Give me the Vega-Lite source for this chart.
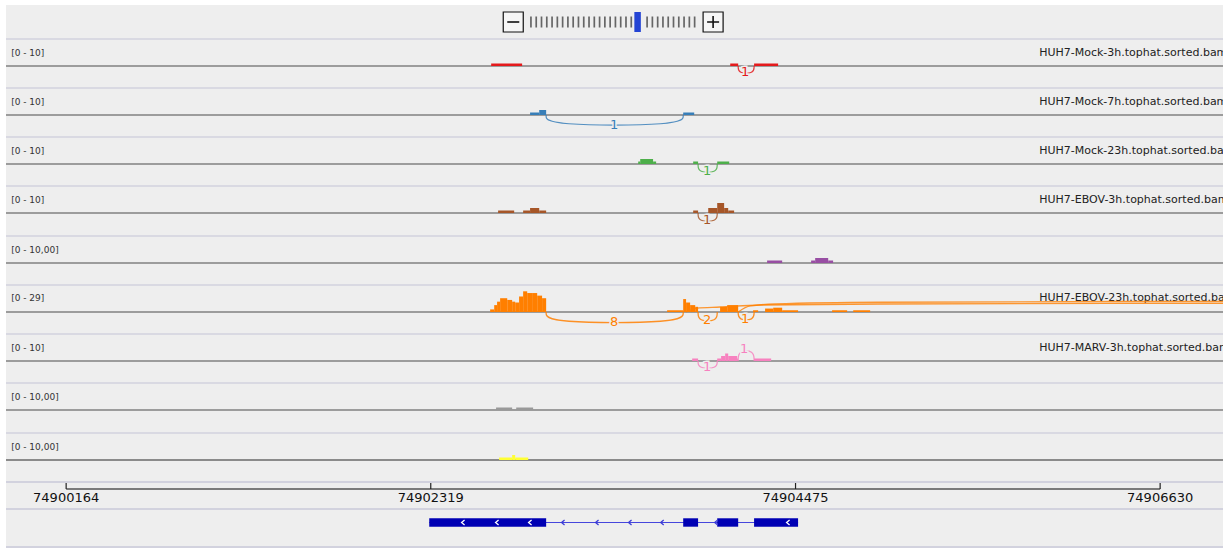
{
"$schema": "https://vega.github.io/schema/vega-lite/v6.json",
"background": "#ffffff",
"padding": {"left": 5, "top": 5, "right": 5, "bottom": 5},
"spacing": 0,
"bounds": "flush",
"resolve": {"scale": {"x": "independent", "y": "independent", "color": "independent", "shape": "independent"}},
"config": {"view": {"stroke": null, "fill": "#eeeeee"}, "font": "DejaVu Sans"},
"datasets": {
"tracks": [
{"track": "t1", "range": "[0 - 10]", "name": "HUH7-Mock-3h.tophat.sorted.bam"},
{"track": "t2", "range": "[0 - 10]", "name": "HUH7-Mock-7h.tophat.sorted.bam"},
{"track": "t3", "range": "[0 - 10]", "name": "HUH7-Mock-23h.tophat.sorted.bam"},
{"track": "t4", "range": "[0 - 10]", "name": "HUH7-EBOV-3h.tophat.sorted.bam"},
{"track": "t5", "range": "[0 - 10,00]", "name": ""},
{"track": "t6", "range": "[0 - 29]", "name": "HUH7-EBOV-23h.tophat.sorted.bam"},
{"track": "t7", "range": "[0 - 10]", "name": "HUH7-MARV-3h.tophat.sorted.bam"},
{"track": "t8", "range": "[0 - 10,00]", "name": ""},
{"track": "t9", "range": "[0 - 10,00]", "name": ""}
],
"cov": [
{"track": "t1", "pos": 74902676, "end": 74902859, "v": 1},
{"track": "t1", "pos": 74904089, "end": 74904136, "v": 1},
{"track": "t1", "pos": 74904230, "end": 74904372, "v": 1},
{"track": "t2", "pos": 74902906, "end": 74902960, "v": 1},
{"track": "t2", "pos": 74902960, "end": 74903001, "v": 2},
{"track": "t2", "pos": 74903811, "end": 74903876, "v": 1},
{"track": "t3", "pos": 74903545, "end": 74903557, "v": 1},
{"track": "t3", "pos": 74903557, "end": 74903633, "v": 2},
{"track": "t3", "pos": 74903633, "end": 74903651, "v": 1},
{"track": "t3", "pos": 74903870, "end": 74903899, "v": 1},
{"track": "t3", "pos": 74904012, "end": 74904083, "v": 1},
{"track": "t4", "pos": 74902717, "end": 74902812, "v": 1},
{"track": "t4", "pos": 74902865, "end": 74902906, "v": 1},
{"track": "t4", "pos": 74902906, "end": 74902960, "v": 2},
{"track": "t4", "pos": 74902960, "end": 74903001, "v": 1},
{"track": "t4", "pos": 74903870, "end": 74903899, "v": 1},
{"track": "t4", "pos": 74903959, "end": 74904012, "v": 2},
{"track": "t4", "pos": 74904012, "end": 74904053, "v": 4},
{"track": "t4", "pos": 74904053, "end": 74904077, "v": 2},
{"track": "t4", "pos": 74904077, "end": 74904112, "v": 1},
{"track": "t5", "pos": 74904307, "end": 74904396, "v": 1},
{"track": "t5", "pos": 74904567, "end": 74904591, "v": 1},
{"track": "t5", "pos": 74904591, "end": 74904668, "v": 2},
{"track": "t5", "pos": 74904668, "end": 74904697, "v": 1},
{"track": "t6", "pos": 74902670, "end": 74902694, "v": 3},
{"track": "t6", "pos": 74902694, "end": 74902711, "v": 8},
{"track": "t6", "pos": 74902711, "end": 74902729, "v": 12},
{"track": "t6", "pos": 74902729, "end": 74902771, "v": 16},
{"track": "t6", "pos": 74902771, "end": 74902800, "v": 14},
{"track": "t6", "pos": 74902800, "end": 74902818, "v": 12},
{"track": "t6", "pos": 74902818, "end": 74902841, "v": 11},
{"track": "t6", "pos": 74902841, "end": 74902865, "v": 18},
{"track": "t6", "pos": 74902865, "end": 74902889, "v": 24},
{"track": "t6", "pos": 74902889, "end": 74902918, "v": 22},
{"track": "t6", "pos": 74902918, "end": 74902948, "v": 22},
{"track": "t6", "pos": 74902948, "end": 74902977, "v": 19},
{"track": "t6", "pos": 74902977, "end": 74903001, "v": 16},
{"track": "t6", "pos": 74903716, "end": 74903811, "v": 2},
{"track": "t6", "pos": 74903811, "end": 74903828, "v": 15},
{"track": "t6", "pos": 74903828, "end": 74903852, "v": 11},
{"track": "t6", "pos": 74903852, "end": 74903882, "v": 8},
{"track": "t6", "pos": 74903882, "end": 74903899, "v": 6},
{"track": "t6", "pos": 74904029, "end": 74904071, "v": 6},
{"track": "t6", "pos": 74904071, "end": 74904136, "v": 8},
{"track": "t6", "pos": 74904224, "end": 74904254, "v": 2},
{"track": "t6", "pos": 74904295, "end": 74904343, "v": 4},
{"track": "t6", "pos": 74904343, "end": 74904396, "v": 5},
{"track": "t6", "pos": 74904396, "end": 74904490, "v": 2},
{"track": "t6", "pos": 74904691, "end": 74904780, "v": 2},
{"track": "t6", "pos": 74904816, "end": 74904916, "v": 2},
{"track": "t7", "pos": 74903864, "end": 74903899, "v": 1},
{"track": "t7", "pos": 74904012, "end": 74904035, "v": 1},
{"track": "t7", "pos": 74904035, "end": 74904059, "v": 2},
{"track": "t7", "pos": 74904059, "end": 74904077, "v": 3},
{"track": "t7", "pos": 74904077, "end": 74904130, "v": 2},
{"track": "t7", "pos": 74904130, "end": 74904136, "v": 1},
{"track": "t7", "pos": 74904230, "end": 74904331, "v": 1},
{"track": "t8", "pos": 74902705, "end": 74902800, "v": 1},
{"track": "t8", "pos": 74902824, "end": 74902924, "v": 1},
{"track": "t9", "pos": 74902723, "end": 74902800, "v": 1},
{"track": "t9", "pos": 74902800, "end": 74902818, "v": 2},
{"track": "t9", "pos": 74902818, "end": 74902895, "v": 1}
],
"arcs": [
{"track": "t1", "arc": "r1", "seq": 1, "pos": 74904136, "v": 0},
{"track": "t1", "arc": "r1", "seq": 2, "pos": 74904136, "v": -3},
{"track": "t1", "arc": "r1", "seq": 3, "pos": 74904230, "v": -3},
{"track": "t1", "arc": "r1", "seq": 4, "pos": 74904230, "v": 0},
{"track": "t2", "arc": "b1", "seq": 1, "pos": 74903001, "v": 0},
{"track": "t2", "arc": "b1", "seq": 2, "pos": 74903001, "v": -4.2},
{"track": "t2", "arc": "b1", "seq": 3, "pos": 74903811, "v": -4.2},
{"track": "t2", "arc": "b1", "seq": 4, "pos": 74903811, "v": 0},
{"track": "t3", "arc": "g1", "seq": 1, "pos": 74903899, "v": 0},
{"track": "t3", "arc": "g1", "seq": 2, "pos": 74903899, "v": -3.5},
{"track": "t3", "arc": "g1", "seq": 3, "pos": 74904012, "v": -3.5},
{"track": "t3", "arc": "g1", "seq": 4, "pos": 74904012, "v": 0},
{"track": "t4", "arc": "n1", "seq": 1, "pos": 74903899, "v": 0},
{"track": "t4", "arc": "n1", "seq": 2, "pos": 74903899, "v": -3.5},
{"track": "t4", "arc": "n1", "seq": 3, "pos": 74904012, "v": -3.5},
{"track": "t4", "arc": "n1", "seq": 4, "pos": 74904012, "v": 0},
{"track": "t6", "arc": "o8", "seq": 1, "pos": 74903001, "v": 0},
{"track": "t6", "arc": "o8", "seq": 2, "pos": 74903001, "v": -12.9},
{"track": "t6", "arc": "o8", "seq": 3, "pos": 74903811, "v": -12.9},
{"track": "t6", "arc": "o8", "seq": 4, "pos": 74903811, "v": 0},
{"track": "t6", "arc": "o2", "seq": 1, "pos": 74903899, "v": 0},
{"track": "t6", "arc": "o2", "seq": 2, "pos": 74903899, "v": -10.8},
{"track": "t6", "arc": "o2", "seq": 3, "pos": 74904012, "v": -10.8},
{"track": "t6", "arc": "o2", "seq": 4, "pos": 74904012, "v": 0},
{"track": "t6", "arc": "o1", "seq": 1, "pos": 74904136, "v": 0},
{"track": "t6", "arc": "o1", "seq": 2, "pos": 74904136, "v": -9.5},
{"track": "t6", "arc": "o1", "seq": 3, "pos": 74904230, "v": -9.5},
{"track": "t6", "arc": "o1", "seq": 4, "pos": 74904230, "v": 0},
{"track": "t7", "arc": "p1", "seq": 1, "pos": 74903899, "v": 0},
{"track": "t7", "arc": "p1", "seq": 2, "pos": 74903899, "v": -3},
{"track": "t7", "arc": "p1", "seq": 3, "pos": 74904012, "v": -3},
{"track": "t7", "arc": "p1", "seq": 4, "pos": 74904012, "v": 0},
{"track": "t7", "arc": "p2", "seq": 1, "pos": 74904136, "v": 0},
{"track": "t7", "arc": "p2", "seq": 2, "pos": 74904136, "v": 4.2},
{"track": "t7", "arc": "p2", "seq": 3, "pos": 74904230, "v": 4.2},
{"track": "t7", "arc": "p2", "seq": 4, "pos": 74904230, "v": 0}
],
"longarcs": [
{"track": "t6", "arc": "A", "seq": 1, "pos": 74903828, "v": 0},
{"track": "t6", "arc": "A", "seq": 2, "pos": 74903893, "v": 4.6},
{"track": "t6", "arc": "A", "seq": 3, "pos": 74904029, "v": 5.8},
{"track": "t6", "arc": "A", "seq": 4, "pos": 74904266, "v": 8.1},
{"track": "t6", "arc": "A", "seq": 5, "pos": 74904975, "v": 9.3},
{"track": "t6", "arc": "A", "seq": 6, "pos": 74907103, "v": 10.2},
{"track": "t6", "arc": "B", "seq": 1, "pos": 74904136, "v": 0},
{"track": "t6", "arc": "B", "seq": 2, "pos": 74904207, "v": 7},
{"track": "t6", "arc": "B", "seq": 3, "pos": 74904354, "v": 9.3},
{"track": "t6", "arc": "B", "seq": 4, "pos": 74904975, "v": 11.3},
{"track": "t6", "arc": "B", "seq": 5, "pos": 74907103, "v": 12.4}
],
"arclabels": [
{"track": "t1", "pos": 74904177, "v": -2.4, "label": "1"},
{"track": "t2", "pos": 74903403, "v": -4, "label": "1"},
{"track": "t3", "pos": 74903953, "v": -2.8, "label": "1"},
{"track": "t4", "pos": 74903953, "v": -2.8, "label": "1"},
{"track": "t6", "pos": 74903403, "v": -11.5, "label": "8"},
{"track": "t6", "pos": 74903953, "v": -9.3, "label": "2"},
{"track": "t6", "pos": 74904177, "v": -8.5, "label": "1"},
{"track": "t7", "pos": 74903953, "v": -2.4, "label": "1"},
{"track": "t7", "pos": 74904171, "v": 4.8, "label": "1"}
],
"ruler": [{"pos": 74900164}, {"pos": 74902319}, {"pos": 74904475}, {"pos": 74906630}],
"exons": [
{"pos": 74902310, "end": 74903001},
{"pos": 74903811, "end": 74903899},
{"pos": 74904012, "end": 74904136},
{"pos": 74904230, "end": 74904490}
],
"strand": [
{"pos": 74902510, "on": "exon"}, {"pos": 74902711, "on": "exon"}, {"pos": 74902906, "on": "exon"},
{"pos": 74903101, "on": "intron"}, {"pos": 74903302, "on": "intron"}, {"pos": 74903497, "on": "intron"},
{"pos": 74903687, "on": "intron"}, {"pos": 74904006, "on": "intron"}, {"pos": 74904431, "on": "exon"}
],
"zoom": [
{"kind": "tick", "i": 0}, {"kind": "tick", "i": 1}, {"kind": "tick", "i": 2}, {"kind": "tick", "i": 3}, {"kind": "tick", "i": 4},
{"kind": "tick", "i": 5}, {"kind": "tick", "i": 6}, {"kind": "tick", "i": 7}, {"kind": "tick", "i": 8}, {"kind": "tick", "i": 9},
{"kind": "tick", "i": 10}, {"kind": "tick", "i": 11}, {"kind": "tick", "i": 12}, {"kind": "tick", "i": 13}, {"kind": "tick", "i": 14},
{"kind": "tick", "i": 15}, {"kind": "tick", "i": 16}, {"kind": "tick", "i": 17}, {"kind": "tick", "i": 18}, {"kind": "tick", "i": 19},
{"kind": "tick", "i": 22}, {"kind": "tick", "i": 23}, {"kind": "tick", "i": 24}, {"kind": "tick", "i": 25}, {"kind": "tick", "i": 26},
{"kind": "tick", "i": 27}, {"kind": "tick", "i": 28}, {"kind": "tick", "i": 29}, {"kind": "tick", "i": 30}, {"kind": "tick", "i": 31},
{"kind": "thumb", "i": 20.2},
{"kind": "minus", "i": -3.35},
{"kind": "plus", "i": 34.5}
]
},
"vconcat": [
{
"width": 1217, "height": 34,
"data": {"name": "zoom"},
"encoding": {"x": {"field": "i", "type": "quantitative", "scale": {"domain": [-99.42, 131.07], "nice": false, "zero": false}, "axis": null}},
"layer": [
{"transform": [{"filter": "datum.kind == 'tick'"}], "mark": {"type": "tick", "orient": "vertical", "size": 11, "thickness": 1.7, "color": "#666666", "opacity": 1}},
{"transform": [{"filter": "datum.kind == 'thumb'"}], "mark": {"type": "tick", "orient": "vertical", "size": 20, "thickness": 6.5, "color": "#2444d4", "opacity": 1}},
{"transform": [{"filter": "datum.kind == 'minus' || datum.kind == 'plus'"}], "mark": {"type": "point", "shape": "square", "size": 400, "filled": true, "fill": "#f6f6f6", "stroke": "#111111", "strokeWidth": 1.2, "opacity": 1}},
{"transform": [{"filter": "datum.kind == 'minus' || datum.kind == 'plus'"}], "mark": {"type": "point", "filled": false, "size": 400, "strokeWidth": 1.6, "color": "#111111", "opacity": 1},
 "encoding": {"shape": {"field": "kind", "type": "nominal", "scale": {"domain": ["minus", "plus"], "range": ["M-0.6,0L0.6,0", "M-0.6,0L0.6,0M0,-0.6L0,0.6"]}, "legend": null}}}
]
},
{
"width": 1217, "height": 49,
"layer": [
{"data": {"name": "tracks"}, "transform": [{"filter": "datum.track == 't1'"}], "mark": {"type": "rule", "color": "#d2d2de", "strokeWidth": 1.5}, "encoding": {"x": {"datum": 74899808.5, "type": "quantitative", "scale": {"domain": [74899808.5, 74907001.5], "nice": false, "zero": false}, "axis": null}, "x2": {"datum": 74907001.5}, "y": {"datum": 10.8, "type": "quantitative", "scale": {"domain": [-8.8, 10.8], "nice": false, "zero": false}, "axis": null}}},
{"data": {"name": "tracks"}, "transform": [{"filter": "datum.track == 't1'"}], "mark": {"type": "rule", "color": "#9c9c9c", "strokeWidth": 1.8}, "encoding": {"x": {"datum": 74899808.5, "type": "quantitative", "axis": null}, "x2": {"datum": 74907001.5}, "y": {"datum": 0, "type": "quantitative", "axis": null}}},
{"data": {"name": "cov"}, "transform": [{"filter": "datum.track == 't1'"}], "mark": {"type": "rect", "color": "#e41a1c"}, "encoding": {"x": {"field": "pos", "type": "quantitative", "scale": {"domain": [74899808.5, 74907001.5], "nice": false, "zero": false}, "axis": null}, "x2": {"field": "end"}, "y": {"field": "v", "type": "quantitative", "scale": {"domain": [-8.8, 10.8], "nice": false, "zero": false}, "axis": null}, "y2": {"datum": 0}}},
{"data": {"name": "arcs"}, "transform": [{"filter": "datum.track == 't1'"}], "mark": {"type": "line", "interpolate": "basis", "color": "#e41a1c", "strokeWidth": 1.2, "opacity": 0.85, "clip": true}, "encoding": {"x": {"field": "pos", "type": "quantitative", "axis": null}, "y": {"field": "v", "type": "quantitative", "axis": null}, "detail": {"field": "arc", "type": "nominal"}, "order": {"field": "seq", "type": "quantitative"}}},
{"data": {"name": "arclabels"}, "transform": [{"filter": "datum.track == 't1'"}], "mark": {"type": "text", "fontSize": 13, "color": "#eeeeee", "stroke": "#eeeeee", "strokeWidth": 3, "baseline": "middle"}, "encoding": {"x": {"field": "pos", "type": "quantitative", "axis": null}, "y": {"field": "v", "type": "quantitative", "axis": null}, "text": {"field": "label", "type": "nominal"}}},
{"data": {"name": "arclabels"}, "transform": [{"filter": "datum.track == 't1'"}], "mark": {"type": "text", "fontSize": 13, "color": "#e41a1c", "baseline": "middle"}, "encoding": {"x": {"field": "pos", "type": "quantitative", "axis": null}, "y": {"field": "v", "type": "quantitative", "axis": null}, "text": {"field": "label", "type": "nominal"}}},
{"data": {"name": "tracks"}, "transform": [{"filter": "datum.track == 't1'"}], "mark": {"type": "text", "fontSize": 9, "color": "#333333", "align": "left", "baseline": "middle"}, "encoding": {"x": {"datum": 74899839, "type": "quantitative", "axis": null}, "y": {"datum": 5.4, "type": "quantitative", "axis": null}, "text": {"field": "range", "type": "nominal"}}},
{"data": {"name": "tracks"}, "transform": [{"filter": "datum.track == 't1'"}], "mark": {"type": "text", "fontSize": 11, "color": "#222222", "align": "left", "baseline": "middle", "clip": true}, "encoding": {"x": {"datum": 74905915, "type": "quantitative", "axis": null}, "y": {"datum": 5.4, "type": "quantitative", "axis": null}, "text": {"field": "name", "type": "nominal"}}}
]
},
{
"width": 1217, "height": 49,
"layer": [
{"data": {"name": "tracks"}, "transform": [{"filter": "datum.track == 't2'"}], "mark": {"type": "rule", "color": "#d2d2de", "strokeWidth": 1.5}, "encoding": {"x": {"datum": 74899808.5, "type": "quantitative", "scale": {"domain": [74899808.5, 74907001.5], "nice": false, "zero": false}, "axis": null}, "x2": {"datum": 74907001.5}, "y": {"datum": 10.8, "type": "quantitative", "scale": {"domain": [-8.8, 10.8], "nice": false, "zero": false}, "axis": null}}},
{"data": {"name": "tracks"}, "transform": [{"filter": "datum.track == 't2'"}], "mark": {"type": "rule", "color": "#9c9c9c", "strokeWidth": 1.8}, "encoding": {"x": {"datum": 74899808.5, "type": "quantitative", "axis": null}, "x2": {"datum": 74907001.5}, "y": {"datum": 0, "type": "quantitative", "axis": null}}},
{"data": {"name": "cov"}, "transform": [{"filter": "datum.track == 't2'"}], "mark": {"type": "rect", "color": "#377eb8"}, "encoding": {"x": {"field": "pos", "type": "quantitative", "scale": {"domain": [74899808.5, 74907001.5], "nice": false, "zero": false}, "axis": null}, "x2": {"field": "end"}, "y": {"field": "v", "type": "quantitative", "scale": {"domain": [-8.8, 10.8], "nice": false, "zero": false}, "axis": null}, "y2": {"datum": 0}}},
{"data": {"name": "arcs"}, "transform": [{"filter": "datum.track == 't2'"}], "mark": {"type": "line", "interpolate": "basis", "color": "#377eb8", "strokeWidth": 1.2, "opacity": 0.85, "clip": true}, "encoding": {"x": {"field": "pos", "type": "quantitative", "axis": null}, "y": {"field": "v", "type": "quantitative", "axis": null}, "detail": {"field": "arc", "type": "nominal"}, "order": {"field": "seq", "type": "quantitative"}}},
{"data": {"name": "arclabels"}, "transform": [{"filter": "datum.track == 't2'"}], "mark": {"type": "text", "fontSize": 13, "color": "#eeeeee", "stroke": "#eeeeee", "strokeWidth": 3, "baseline": "middle"}, "encoding": {"x": {"field": "pos", "type": "quantitative", "axis": null}, "y": {"field": "v", "type": "quantitative", "axis": null}, "text": {"field": "label", "type": "nominal"}}},
{"data": {"name": "arclabels"}, "transform": [{"filter": "datum.track == 't2'"}], "mark": {"type": "text", "fontSize": 13, "color": "#377eb8", "baseline": "middle"}, "encoding": {"x": {"field": "pos", "type": "quantitative", "axis": null}, "y": {"field": "v", "type": "quantitative", "axis": null}, "text": {"field": "label", "type": "nominal"}}},
{"data": {"name": "tracks"}, "transform": [{"filter": "datum.track == 't2'"}], "mark": {"type": "text", "fontSize": 9, "color": "#333333", "align": "left", "baseline": "middle"}, "encoding": {"x": {"datum": 74899839, "type": "quantitative", "axis": null}, "y": {"datum": 5.4, "type": "quantitative", "axis": null}, "text": {"field": "range", "type": "nominal"}}},
{"data": {"name": "tracks"}, "transform": [{"filter": "datum.track == 't2'"}], "mark": {"type": "text", "fontSize": 11, "color": "#222222", "align": "left", "baseline": "middle", "clip": true}, "encoding": {"x": {"datum": 74905915, "type": "quantitative", "axis": null}, "y": {"datum": 5.4, "type": "quantitative", "axis": null}, "text": {"field": "name", "type": "nominal"}}}
]
},
{
"width": 1217, "height": 49,
"layer": [
{"data": {"name": "tracks"}, "transform": [{"filter": "datum.track == 't3'"}], "mark": {"type": "rule", "color": "#d2d2de", "strokeWidth": 1.5}, "encoding": {"x": {"datum": 74899808.5, "type": "quantitative", "scale": {"domain": [74899808.5, 74907001.5], "nice": false, "zero": false}, "axis": null}, "x2": {"datum": 74907001.5}, "y": {"datum": 10.8, "type": "quantitative", "scale": {"domain": [-8.8, 10.8], "nice": false, "zero": false}, "axis": null}}},
{"data": {"name": "tracks"}, "transform": [{"filter": "datum.track == 't3'"}], "mark": {"type": "rule", "color": "#9c9c9c", "strokeWidth": 1.8}, "encoding": {"x": {"datum": 74899808.5, "type": "quantitative", "axis": null}, "x2": {"datum": 74907001.5}, "y": {"datum": 0, "type": "quantitative", "axis": null}}},
{"data": {"name": "cov"}, "transform": [{"filter": "datum.track == 't3'"}], "mark": {"type": "rect", "color": "#4daf4a"}, "encoding": {"x": {"field": "pos", "type": "quantitative", "scale": {"domain": [74899808.5, 74907001.5], "nice": false, "zero": false}, "axis": null}, "x2": {"field": "end"}, "y": {"field": "v", "type": "quantitative", "scale": {"domain": [-8.8, 10.8], "nice": false, "zero": false}, "axis": null}, "y2": {"datum": 0}}},
{"data": {"name": "arcs"}, "transform": [{"filter": "datum.track == 't3'"}], "mark": {"type": "line", "interpolate": "basis", "color": "#4daf4a", "strokeWidth": 1.2, "opacity": 0.85, "clip": true}, "encoding": {"x": {"field": "pos", "type": "quantitative", "axis": null}, "y": {"field": "v", "type": "quantitative", "axis": null}, "detail": {"field": "arc", "type": "nominal"}, "order": {"field": "seq", "type": "quantitative"}}},
{"data": {"name": "arclabels"}, "transform": [{"filter": "datum.track == 't3'"}], "mark": {"type": "text", "fontSize": 13, "color": "#eeeeee", "stroke": "#eeeeee", "strokeWidth": 3, "baseline": "middle"}, "encoding": {"x": {"field": "pos", "type": "quantitative", "axis": null}, "y": {"field": "v", "type": "quantitative", "axis": null}, "text": {"field": "label", "type": "nominal"}}},
{"data": {"name": "arclabels"}, "transform": [{"filter": "datum.track == 't3'"}], "mark": {"type": "text", "fontSize": 13, "color": "#4daf4a", "baseline": "middle"}, "encoding": {"x": {"field": "pos", "type": "quantitative", "axis": null}, "y": {"field": "v", "type": "quantitative", "axis": null}, "text": {"field": "label", "type": "nominal"}}},
{"data": {"name": "tracks"}, "transform": [{"filter": "datum.track == 't3'"}], "mark": {"type": "text", "fontSize": 9, "color": "#333333", "align": "left", "baseline": "middle"}, "encoding": {"x": {"datum": 74899839, "type": "quantitative", "axis": null}, "y": {"datum": 5.4, "type": "quantitative", "axis": null}, "text": {"field": "range", "type": "nominal"}}},
{"data": {"name": "tracks"}, "transform": [{"filter": "datum.track == 't3'"}], "mark": {"type": "text", "fontSize": 11, "color": "#222222", "align": "left", "baseline": "middle", "clip": true}, "encoding": {"x": {"datum": 74905915, "type": "quantitative", "axis": null}, "y": {"datum": 5.4, "type": "quantitative", "axis": null}, "text": {"field": "name", "type": "nominal"}}}
]
},
{
"width": 1217, "height": 50,
"layer": [
{"data": {"name": "tracks"}, "transform": [{"filter": "datum.track == 't4'"}], "mark": {"type": "rule", "color": "#d2d2de", "strokeWidth": 1.5}, "encoding": {"x": {"datum": 74899808.5, "type": "quantitative", "scale": {"domain": [74899808.5, 74907001.5], "nice": false, "zero": false}, "axis": null}, "x2": {"datum": 74907001.5}, "y": {"datum": 10.8, "type": "quantitative", "scale": {"domain": [-9.2, 10.8], "nice": false, "zero": false}, "axis": null}}},
{"data": {"name": "tracks"}, "transform": [{"filter": "datum.track == 't4'"}], "mark": {"type": "rule", "color": "#9c9c9c", "strokeWidth": 1.8}, "encoding": {"x": {"datum": 74899808.5, "type": "quantitative", "axis": null}, "x2": {"datum": 74907001.5}, "y": {"datum": 0, "type": "quantitative", "axis": null}}},
{"data": {"name": "cov"}, "transform": [{"filter": "datum.track == 't4'"}], "mark": {"type": "rect", "color": "#a65628"}, "encoding": {"x": {"field": "pos", "type": "quantitative", "scale": {"domain": [74899808.5, 74907001.5], "nice": false, "zero": false}, "axis": null}, "x2": {"field": "end"}, "y": {"field": "v", "type": "quantitative", "scale": {"domain": [-9.2, 10.8], "nice": false, "zero": false}, "axis": null}, "y2": {"datum": 0}}},
{"data": {"name": "arcs"}, "transform": [{"filter": "datum.track == 't4'"}], "mark": {"type": "line", "interpolate": "basis", "color": "#a65628", "strokeWidth": 1.2, "opacity": 0.85, "clip": true}, "encoding": {"x": {"field": "pos", "type": "quantitative", "axis": null}, "y": {"field": "v", "type": "quantitative", "axis": null}, "detail": {"field": "arc", "type": "nominal"}, "order": {"field": "seq", "type": "quantitative"}}},
{"data": {"name": "arclabels"}, "transform": [{"filter": "datum.track == 't4'"}], "mark": {"type": "text", "fontSize": 13, "color": "#eeeeee", "stroke": "#eeeeee", "strokeWidth": 3, "baseline": "middle"}, "encoding": {"x": {"field": "pos", "type": "quantitative", "axis": null}, "y": {"field": "v", "type": "quantitative", "axis": null}, "text": {"field": "label", "type": "nominal"}}},
{"data": {"name": "arclabels"}, "transform": [{"filter": "datum.track == 't4'"}], "mark": {"type": "text", "fontSize": 13, "color": "#a65628", "baseline": "middle"}, "encoding": {"x": {"field": "pos", "type": "quantitative", "axis": null}, "y": {"field": "v", "type": "quantitative", "axis": null}, "text": {"field": "label", "type": "nominal"}}},
{"data": {"name": "tracks"}, "transform": [{"filter": "datum.track == 't4'"}], "mark": {"type": "text", "fontSize": 9, "color": "#333333", "align": "left", "baseline": "middle"}, "encoding": {"x": {"datum": 74899839, "type": "quantitative", "axis": null}, "y": {"datum": 5.4, "type": "quantitative", "axis": null}, "text": {"field": "range", "type": "nominal"}}},
{"data": {"name": "tracks"}, "transform": [{"filter": "datum.track == 't4'"}], "mark": {"type": "text", "fontSize": 11, "color": "#222222", "align": "left", "baseline": "middle", "clip": true}, "encoding": {"x": {"datum": 74905915, "type": "quantitative", "axis": null}, "y": {"datum": 5.4, "type": "quantitative", "axis": null}, "text": {"field": "name", "type": "nominal"}}}
]
},
{
"width": 1217, "height": 49,
"layer": [
{"data": {"name": "tracks"}, "transform": [{"filter": "datum.track == 't5'"}], "mark": {"type": "rule", "color": "#d2d2de", "strokeWidth": 1.5}, "encoding": {"x": {"datum": 74899808.5, "type": "quantitative", "scale": {"domain": [74899808.5, 74907001.5], "nice": false, "zero": false}, "axis": null}, "x2": {"datum": 74907001.5}, "y": {"datum": 10.8, "type": "quantitative", "scale": {"domain": [-8.8, 10.8], "nice": false, "zero": false}, "axis": null}}},
{"data": {"name": "tracks"}, "transform": [{"filter": "datum.track == 't5'"}], "mark": {"type": "rule", "color": "#9c9c9c", "strokeWidth": 1.8}, "encoding": {"x": {"datum": 74899808.5, "type": "quantitative", "axis": null}, "x2": {"datum": 74907001.5}, "y": {"datum": 0, "type": "quantitative", "axis": null}}},
{"data": {"name": "cov"}, "transform": [{"filter": "datum.track == 't5'"}], "mark": {"type": "rect", "color": "#984ea3"}, "encoding": {"x": {"field": "pos", "type": "quantitative", "scale": {"domain": [74899808.5, 74907001.5], "nice": false, "zero": false}, "axis": null}, "x2": {"field": "end"}, "y": {"field": "v", "type": "quantitative", "scale": {"domain": [-8.8, 10.8], "nice": false, "zero": false}, "axis": null}, "y2": {"datum": 0}}},
{"data": {"name": "tracks"}, "transform": [{"filter": "datum.track == 't5'"}], "mark": {"type": "text", "fontSize": 9, "color": "#333333", "align": "left", "baseline": "middle"}, "encoding": {"x": {"datum": 74899839, "type": "quantitative", "axis": null}, "y": {"datum": 5.4, "type": "quantitative", "axis": null}, "text": {"field": "range", "type": "nominal"}}}
]
},
{
"width": 1217, "height": 49,
"layer": [
{"data": {"name": "tracks"}, "transform": [{"filter": "datum.track == 't6'"}], "mark": {"type": "rule", "color": "#d2d2de", "strokeWidth": 1.5}, "encoding": {"x": {"datum": 74899808.5, "type": "quantitative", "scale": {"domain": [74899808.5, 74907001.5], "nice": false, "zero": false}, "axis": null}, "x2": {"datum": 74907001.5}, "y": {"datum": 31.32, "type": "quantitative", "scale": {"domain": [-25.52, 31.32], "nice": false, "zero": false}, "axis": null}}},
{"data": {"name": "tracks"}, "transform": [{"filter": "datum.track == 't6'"}], "mark": {"type": "rule", "color": "#9c9c9c", "strokeWidth": 1.8}, "encoding": {"x": {"datum": 74899808.5, "type": "quantitative", "axis": null}, "x2": {"datum": 74907001.5}, "y": {"datum": 0, "type": "quantitative", "axis": null}}},
{"data": {"name": "cov"}, "transform": [{"filter": "datum.track == 't6'"}], "mark": {"type": "rect", "color": "#ff7f00"}, "encoding": {"x": {"field": "pos", "type": "quantitative", "scale": {"domain": [74899808.5, 74907001.5], "nice": false, "zero": false}, "axis": null}, "x2": {"field": "end"}, "y": {"field": "v", "type": "quantitative", "scale": {"domain": [-25.52, 31.32], "nice": false, "zero": false}, "axis": null}, "y2": {"datum": 0}}},
{"data": {"name": "tracks"}, "transform": [{"filter": "datum.track == 't6'"}], "mark": {"type": "text", "fontSize": 11, "color": "#222222", "align": "left", "baseline": "middle", "clip": true}, "encoding": {"x": {"datum": 74905915, "type": "quantitative", "axis": null}, "y": {"datum": 15.7, "type": "quantitative", "axis": null}, "text": {"field": "name", "type": "nominal"}}},
{"data": {"name": "longarcs"}, "mark": {"type": "line", "interpolate": "monotone", "color": "#ff7f00", "strokeWidth": 1.3, "opacity": 0.8, "clip": true}, "encoding": {"x": {"field": "pos", "type": "quantitative", "axis": null}, "y": {"field": "v", "type": "quantitative", "axis": null}, "detail": {"field": "arc", "type": "nominal"}, "order": {"field": "seq", "type": "quantitative"}}},
{"data": {"name": "arcs"}, "transform": [{"filter": "datum.track == 't6'"}], "mark": {"type": "line", "interpolate": "basis", "color": "#ff7f00", "strokeWidth": 1.3, "opacity": 0.85, "clip": true}, "encoding": {"x": {"field": "pos", "type": "quantitative", "axis": null}, "y": {"field": "v", "type": "quantitative", "axis": null}, "detail": {"field": "arc", "type": "nominal"}, "order": {"field": "seq", "type": "quantitative"}}},
{"data": {"name": "arclabels"}, "transform": [{"filter": "datum.track == 't6'"}], "mark": {"type": "text", "fontSize": 13, "color": "#eeeeee", "stroke": "#eeeeee", "strokeWidth": 3, "baseline": "middle"}, "encoding": {"x": {"field": "pos", "type": "quantitative", "axis": null}, "y": {"field": "v", "type": "quantitative", "axis": null}, "text": {"field": "label", "type": "nominal"}}},
{"data": {"name": "arclabels"}, "transform": [{"filter": "datum.track == 't6'"}], "mark": {"type": "text", "fontSize": 13, "color": "#ff7f00", "baseline": "middle"}, "encoding": {"x": {"field": "pos", "type": "quantitative", "axis": null}, "y": {"field": "v", "type": "quantitative", "axis": null}, "text": {"field": "label", "type": "nominal"}}},
{"data": {"name": "tracks"}, "transform": [{"filter": "datum.track == 't6'"}], "mark": {"type": "text", "fontSize": 9, "color": "#333333", "align": "left", "baseline": "middle"}, "encoding": {"x": {"datum": 74899839, "type": "quantitative", "axis": null}, "y": {"datum": 15.7, "type": "quantitative", "axis": null}, "text": {"field": "range", "type": "nominal"}}}
]
},
{
"width": 1217, "height": 49,
"layer": [
{"data": {"name": "tracks"}, "transform": [{"filter": "datum.track == 't7'"}], "mark": {"type": "rule", "color": "#d2d2de", "strokeWidth": 1.5}, "encoding": {"x": {"datum": 74899808.5, "type": "quantitative", "scale": {"domain": [74899808.5, 74907001.5], "nice": false, "zero": false}, "axis": null}, "x2": {"datum": 74907001.5}, "y": {"datum": 10.8, "type": "quantitative", "scale": {"domain": [-8.8, 10.8], "nice": false, "zero": false}, "axis": null}}},
{"data": {"name": "tracks"}, "transform": [{"filter": "datum.track == 't7'"}], "mark": {"type": "rule", "color": "#9c9c9c", "strokeWidth": 1.8}, "encoding": {"x": {"datum": 74899808.5, "type": "quantitative", "axis": null}, "x2": {"datum": 74907001.5}, "y": {"datum": 0, "type": "quantitative", "axis": null}}},
{"data": {"name": "cov"}, "transform": [{"filter": "datum.track == 't7'"}], "mark": {"type": "rect", "color": "#f781bf"}, "encoding": {"x": {"field": "pos", "type": "quantitative", "scale": {"domain": [74899808.5, 74907001.5], "nice": false, "zero": false}, "axis": null}, "x2": {"field": "end"}, "y": {"field": "v", "type": "quantitative", "scale": {"domain": [-8.8, 10.8], "nice": false, "zero": false}, "axis": null}, "y2": {"datum": 0}}},
{"data": {"name": "arcs"}, "transform": [{"filter": "datum.track == 't7'"}], "mark": {"type": "line", "interpolate": "basis", "color": "#f781bf", "strokeWidth": 1.2, "opacity": 0.85, "clip": true}, "encoding": {"x": {"field": "pos", "type": "quantitative", "axis": null}, "y": {"field": "v", "type": "quantitative", "axis": null}, "detail": {"field": "arc", "type": "nominal"}, "order": {"field": "seq", "type": "quantitative"}}},
{"data": {"name": "arclabels"}, "transform": [{"filter": "datum.track == 't7'"}], "mark": {"type": "text", "fontSize": 13, "color": "#eeeeee", "stroke": "#eeeeee", "strokeWidth": 3, "baseline": "middle"}, "encoding": {"x": {"field": "pos", "type": "quantitative", "axis": null}, "y": {"field": "v", "type": "quantitative", "axis": null}, "text": {"field": "label", "type": "nominal"}}},
{"data": {"name": "arclabels"}, "transform": [{"filter": "datum.track == 't7'"}], "mark": {"type": "text", "fontSize": 13, "color": "#f781bf", "baseline": "middle"}, "encoding": {"x": {"field": "pos", "type": "quantitative", "axis": null}, "y": {"field": "v", "type": "quantitative", "axis": null}, "text": {"field": "label", "type": "nominal"}}},
{"data": {"name": "tracks"}, "transform": [{"filter": "datum.track == 't7'"}], "mark": {"type": "text", "fontSize": 9, "color": "#333333", "align": "left", "baseline": "middle"}, "encoding": {"x": {"datum": 74899839, "type": "quantitative", "axis": null}, "y": {"datum": 5.4, "type": "quantitative", "axis": null}, "text": {"field": "range", "type": "nominal"}}},
{"data": {"name": "tracks"}, "transform": [{"filter": "datum.track == 't7'"}], "mark": {"type": "text", "fontSize": 11, "color": "#222222", "align": "left", "baseline": "middle", "clip": true}, "encoding": {"x": {"datum": 74905915, "type": "quantitative", "axis": null}, "y": {"datum": 5.4, "type": "quantitative", "axis": null}, "text": {"field": "name", "type": "nominal"}}}
]
},
{
"width": 1217, "height": 50,
"layer": [
{"data": {"name": "tracks"}, "transform": [{"filter": "datum.track == 't8'"}], "mark": {"type": "rule", "color": "#d2d2de", "strokeWidth": 1.5}, "encoding": {"x": {"datum": 74899808.5, "type": "quantitative", "scale": {"domain": [74899808.5, 74907001.5], "nice": false, "zero": false}, "axis": null}, "x2": {"datum": 74907001.5}, "y": {"datum": 10.8, "type": "quantitative", "scale": {"domain": [-9.2, 10.8], "nice": false, "zero": false}, "axis": null}}},
{"data": {"name": "tracks"}, "transform": [{"filter": "datum.track == 't8'"}], "mark": {"type": "rule", "color": "#9c9c9c", "strokeWidth": 1.8}, "encoding": {"x": {"datum": 74899808.5, "type": "quantitative", "axis": null}, "x2": {"datum": 74907001.5}, "y": {"datum": 0, "type": "quantitative", "axis": null}}},
{"data": {"name": "cov"}, "transform": [{"filter": "datum.track == 't8'"}], "mark": {"type": "rect", "color": "#999999"}, "encoding": {"x": {"field": "pos", "type": "quantitative", "scale": {"domain": [74899808.5, 74907001.5], "nice": false, "zero": false}, "axis": null}, "x2": {"field": "end"}, "y": {"field": "v", "type": "quantitative", "scale": {"domain": [-9.2, 10.8], "nice": false, "zero": false}, "axis": null}, "y2": {"datum": 0}}},
{"data": {"name": "tracks"}, "transform": [{"filter": "datum.track == 't8'"}], "mark": {"type": "text", "fontSize": 9, "color": "#333333", "align": "left", "baseline": "middle"}, "encoding": {"x": {"datum": 74899839, "type": "quantitative", "axis": null}, "y": {"datum": 5.4, "type": "quantitative", "axis": null}, "text": {"field": "range", "type": "nominal"}}}
]
},
{
"width": 1217, "height": 49,
"layer": [
{"data": {"name": "tracks"}, "transform": [{"filter": "datum.track == 't9'"}], "mark": {"type": "rule", "color": "#d2d2de", "strokeWidth": 1.5}, "encoding": {"x": {"datum": 74899808.5, "type": "quantitative", "scale": {"domain": [74899808.5, 74907001.5], "nice": false, "zero": false}, "axis": null}, "x2": {"datum": 74907001.5}, "y": {"datum": 10.8, "type": "quantitative", "scale": {"domain": [-8.8, 10.8], "nice": false, "zero": false}, "axis": null}}},
{"data": {"name": "tracks"}, "transform": [{"filter": "datum.track == 't9'"}], "mark": {"type": "rule", "color": "#8a8a8a", "strokeWidth": 1.8}, "encoding": {"x": {"datum": 74899808.5, "type": "quantitative", "axis": null}, "x2": {"datum": 74907001.5}, "y": {"datum": 0, "type": "quantitative", "axis": null}}},
{"data": {"name": "cov"}, "transform": [{"filter": "datum.track == 't9'"}], "mark": {"type": "rect", "color": "#ffff33"}, "encoding": {"x": {"field": "pos", "type": "quantitative", "scale": {"domain": [74899808.5, 74907001.5], "nice": false, "zero": false}, "axis": null}, "x2": {"field": "end"}, "y": {"field": "v", "type": "quantitative", "scale": {"domain": [-8.8, 10.8], "nice": false, "zero": false}, "axis": null}, "y2": {"datum": 0}}},
{"data": {"name": "tracks"}, "transform": [{"filter": "datum.track == 't9'"}], "mark": {"type": "text", "fontSize": 9, "color": "#333333", "align": "left", "baseline": "middle"}, "encoding": {"x": {"datum": 74899839, "type": "quantitative", "axis": null}, "y": {"datum": 5.4, "type": "quantitative", "axis": null}, "text": {"field": "range", "type": "nominal"}}}
]
},
{
"width": 1217, "height": 27,
"data": {"name": "ruler"},
"layer": [
{"mark": {"type": "rule", "color": "#d2d2de", "strokeWidth": 1.5}, "encoding": {"x": {"datum": 74899808.5, "type": "quantitative", "scale": {"domain": [74899808.5, 74907001.5], "nice": false, "zero": false}, "axis": null}, "x2": {"datum": 74907001.5}, "y": {"datum": 7, "type": "quantitative", "scale": {"domain": [-20, 7], "nice": false, "zero": false}, "axis": null}}},
{"mark": {"type": "rule", "color": "#555555", "strokeWidth": 1.4}, "encoding": {"x": {"aggregate": "min", "field": "pos", "type": "quantitative", "axis": null}, "x2": {"aggregate": "max", "field": "pos"}, "y": {"datum": 0, "type": "quantitative", "axis": null}}},
{"mark": {"type": "rule", "color": "#222222", "strokeWidth": 1.2}, "encoding": {"x": {"field": "pos", "type": "quantitative", "axis": null}, "y": {"datum": 0, "type": "quantitative", "axis": null}, "y2": {"datum": 6}}},
{"mark": {"type": "text", "fontSize": 13, "color": "#111111", "baseline": "middle"}, "encoding": {"x": {"field": "pos", "type": "quantitative", "axis": null}, "y": {"datum": -9, "type": "quantitative", "axis": null}, "text": {"field": "pos", "type": "quantitative", "format": "d"}}}
]
},
{
"width": 1217, "height": 38,
"layer": [
{"data": {"name": "ruler"}, "mark": {"type": "rule", "color": "#d2d2de", "strokeWidth": 1.5}, "encoding": {"x": {"datum": 74899808.5, "type": "quantitative", "scale": {"domain": [74899808.5, 74907001.5], "nice": false, "zero": false}, "axis": null}, "x2": {"datum": 74907001.5}, "y": {"datum": 3.21, "type": "quantitative", "scale": {"domain": [-5.83, 3.21], "nice": false, "zero": false}, "axis": null}}},
{"data": {"name": "ruler"}, "mark": {"type": "rule", "color": "#d2d2de", "strokeWidth": 1.5}, "encoding": {"x": {"datum": 74899808.5, "type": "quantitative", "axis": null}, "x2": {"datum": 74907001.5}, "y": {"datum": -5.83, "type": "quantitative", "axis": null}}},
{"data": {"name": "exons"}, "mark": {"type": "rule", "color": "#4646dc", "strokeWidth": 1.2}, "encoding": {"x": {"aggregate": "min", "field": "pos", "type": "quantitative", "axis": null}, "x2": {"aggregate": "max", "field": "end"}, "y": {"datum": 0, "type": "quantitative", "axis": null}}},
{"data": {"name": "exons"}, "mark": {"type": "rect", "color": "#0000b4"}, "encoding": {"x": {"field": "pos", "type": "quantitative", "axis": null}, "x2": {"field": "end"}, "y": {"datum": -1, "type": "quantitative", "axis": null}, "y2": {"datum": 1}}},
{"data": {"name": "strand"}, "mark": {"type": "point", "shape": "M0.6,-1L-0.6,0L0.6,1", "filled": false, "size": 25, "strokeWidth": 1.3, "opacity": 1},
 "encoding": {
  "x": {"field": "pos", "type": "quantitative", "axis": null},
  "y": {"datum": 0, "type": "quantitative", "axis": null},
  "color": {"field": "on", "type": "nominal", "scale": {"domain": ["exon", "intron"], "range": ["#ffffff", "#3c3cd6"]}, "legend": null}}}
]
}
]
}
